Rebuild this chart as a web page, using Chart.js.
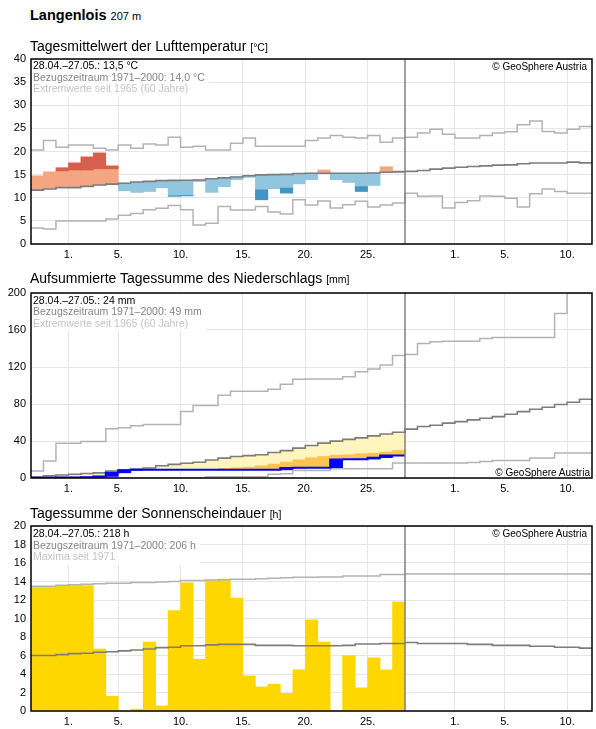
<!DOCTYPE html>
<html>
<head>
<meta charset="utf-8">
<script src="https://cdn.jsdelivr.net/npm/chart.js@4.4.1/dist/chart.umd.min.js"></script>
<style>
    body { margin: 0; background: #fff; font-family: "Liberation Sans", Arial, sans-serif; }
    #page { position: relative; width: 596px; height: 729px; overflow: hidden; }
    canvas { position: absolute; left: 0; }
    .txt { position: absolute; white-space: nowrap; color: #000; }
    .head { left: 30px; font-size: 14.5px; font-weight: bold; line-height: 14.5px; }
    .head span { font-size: 11px; font-weight: normal; }
    .ttl { left: 30px; font-size: 14px; line-height: 14px; }
    .ttl span { font-size: 10.5px; }
    .info { left: 32px; padding: 0 4px 2px 1px; font-size: 10.5px; line-height: 11.5px; background: #fff; }
    .info .b { color: #858585; }
    .info .c { color: #c4c4c4; }
    .copy { font-size: 10px; line-height: 11px; }
</style>
</head>
<body>
<div id="page">
    <canvas id="temp" width="596" height="215" style="top:47px"></canvas>
    <canvas id="rain" width="596" height="215" style="top:281px"></canvas>
    <canvas id="sun" width="596" height="215" style="top:514px"></canvas>

    <div class="txt head" style="top:8px">Langenlois <span>207 m</span></div>

    <div class="txt ttl" style="top:38.9px">Tagesmittelwert der Lufttemperatur <span>[°C]</span></div>
    <div class="txt info" style="top:60px">
        <div>28.04.–27.05.: 13,5 °C</div>
        <div class="b">Bezugszeitraum 1971–2000: 14,0 °C</div>
        <div class="c">Extremwerte seit 1965 (60 Jahre)</div>
    </div>
    <div class="txt copy" style="top:60.5px; right:9px">© GeoSphere Austria</div>

    <div class="txt ttl" style="top:271px">Aufsummierte Tagessumme des Niederschlags <span>[mm]</span></div>
    <div class="txt info" style="top:294.5px">
        <div>28.04.–27.05.: 24 mm</div>
        <div class="b">Bezugszeitraum 1971–2000: 49 mm</div>
        <div class="c">Extremwerte seit 1965 (60 Jahre)</div>
    </div>
    <div class="txt copy" style="top:466.8px; right:6px">© GeoSphere Austria</div>

    <div class="txt ttl" style="top:505.5px">Tagessumme der Sonnenscheindauer <span>[h]</span></div>
    <div class="txt info" style="top:528px">
        <div>28.04.–27.05.: 218 h</div>
        <div class="b">Bezugszeitraum 1971–2000: 206 h</div>
        <div class="c">Maxima seit 1971</div>
    </div>
    <div class="txt copy" style="top:528.3px; right:9px">© GeoSphere Austria</div>
</div>

<script>
// Tage ab 28.04. (Index 0) bis 11.06. (Index 44), Messwerte bis 27.05. (Index 29)
const nDays = 45;
const splitDay = 30;
const dayTicks = [3, 7, 12, 17, 22, 27, 34, 38, 43];
const dayLabels = ["1.", "5.", "10.", "15.", "20.", "25.", "1.", "5.", "10."];

// Lufttemperatur [°C]
const tempObs = [14.75, 15.6, 16.5, 17.55, 18.85, 19.7, 16.9, 11.5, 11.15, 11.35, 12.15, 10.3, 10.4, 13.5, 11.15,
    12.4, 13.9, 14.4, 9.55, 11.95, 11.0, 13.0, 13.9, 16.0, 13.9, 13.3, 11.35, 12.65, 16.7, 15.8];
const tempClim = [11.65, 11.9, 12.2, 12.2, 12.45, 12.75, 12.95, 13.15, 13.4, 13.55, 13.7, 13.75, 13.8, 13.85, 14.1,
    14.3, 14.5, 14.75, 14.95, 15.0, 15.05, 15.25, 15.3, 15.3, 15.3, 15.3, 15.3, 15.35, 15.5, 15.6,
    15.7, 15.9, 16.2, 16.4, 16.6, 16.75, 16.9, 17.05, 17.1, 17.35, 17.5, 17.5, 17.5, 17.7, 17.55];
const tempUpper = [15.2, 15.7, 15.8, 16.0, 16.0, 16.25, 16.25, 16.4, 16.6, 16.8, 17.0, 17.0, 17.1, 17.3, 17.5,
    17.7, 17.9, 18.1, 18.2, 18.3, 18.4, 18.5, 18.6, 18.6, 18.7, 18.7, 18.7, 18.7, 18.8, 18.9];
const tempLower = [8.4, 8.6, 8.9, 9.0, 9.2, 9.5, 9.7, 9.9, 10.1, 10.3, 10.4, 10.45, 10.5, 10.7, 10.9,
    11.1, 11.3, 11.5, 11.7, 11.8, 12.1, 12.2, 12.3, 12.3, 12.35, 12.4, 12.4, 12.4, 12.5, 12.6];
const tempMax = [20.3, 22.4, 20.9, 21.4, 21.4, 20.7, 20.3, 21.4, 20.7, 21.6, 21.4, 23.1, 20.9, 21.15, 20.3,
    20.3, 21.8, 22.9, 21.15, 21.15, 21.15, 21.15, 22.4, 22.9, 23.45, 23.1, 22.9, 23.45, 22.0, 22.9,
    23.1, 24.0, 24.8, 23.75, 22.9, 22.9, 23.45, 24.0, 24.25, 25.8, 26.6, 24.3, 24.0, 24.8, 25.4];
const tempMin = [3.45, 3.25, 4.95, 4.95, 4.95, 4.95, 5.4, 6.2, 6.6, 7.4, 7.75, 8.35, 7.4, 4.1, 4.5,
    8.1, 7.35, 7.35, 8.1, 6.9, 6.5, 9.55, 8.45, 9.3, 7.8, 8.5, 9.25, 8.0, 8.45, 8.85,
    11.0, 10.3, 10.4, 7.8, 9.0, 9.35, 10.4, 10.3, 9.9, 8.0, 10.85, 11.9, 11.35, 11.0, 11.0];

// Niederschlag aufsummiert [mm]
const rainObs = [0.3, 0.4, 0.5, 0.6, 0.7, 1.7, 5.6, 8.4, 8.8, 8.8, 8.8, 8.8, 8.8, 8.8, 8.8,
    8.8, 8.8, 8.8, 8.8, 8.8, 10.9, 11.1, 11.1, 11.1, 20.1, 20.2, 20.4, 22.0, 24.4, 24.4];
const rainLimit = [0.4, 1.2, 1.3, 1.4, 1.5, 2.2, 3.0, 3.8, 4.6, 5.4, 6.2, 7.0, 7.6, 8.2, 8.7,
    10.4, 11.1, 11.8, 13.3, 15.0, 17.2, 19.7, 21.9, 23.3, 24.7, 25.1, 26.2, 26.9, 28.0, 29.8];
const rainClim = [1.0, 2.3, 3.2, 4.0, 4.8, 5.5, 7.6, 8.7, 9.8, 10.8, 13.3, 14.7, 15.9, 17.0, 19.5,
    21.5, 23.3, 24.2, 25.2, 27.5, 29.6, 32.3, 35.2, 37.7, 39.9, 41.8, 43.4, 45.5, 47.5, 49.4,
    52.8, 55.6, 57.1, 59.3, 61.0, 62.8, 64.6, 66.4, 68.9, 71.8, 74.3, 76.5, 79.4, 81.9, 85.1];
const rainMax = [7.7, 18.5, 37.7, 37.7, 39.5, 39.5, 53.3, 54.2, 56.5, 57.8, 57.8, 57.8, 72.0, 78.5, 78.5,
    89.4, 93.7, 93.7, 93.7, 95.9, 101.3, 106.7, 107.0, 107.0, 107.0, 109.5, 114.9, 117.8, 122.1, 132.5,
    133.6, 145.4, 147.2, 147.9, 147.9, 147.9, 150.8, 151.9, 151.9, 151.9, 151.9, 151.9, 177.8, 200.0, 200.0];
const rainMin = [0, 0, 0, 0, 0, 0, 0, 0, 0, 0, 0, 0, 0, 0, 1.4,
    1.4, 1.4, 1.4, 1.4, 4.0, 4.6, 8.2, 8.2, 8.2, 10.0, 10.0, 10.0, 10.0, 10.0, 16.1,
    16.1, 16.1, 16.1, 16.1, 16.1, 16.8, 17.9, 19.0, 19.0, 19.0, 21.5, 21.5, 26.9, 26.9, 26.9];

// Sonnenscheindauer [h]
const sunObs = [13.45, 13.4, 13.55, 13.55, 13.55, 6.7, 1.6, 0, 0.2, 7.45, 0.55, 10.85, 13.85, 5.6, 14.1,
    14.25, 12.2, 3.8, 2.6, 2.9, 1.9, 4.45, 9.85, 7.45, 0, 6.0, 2.5, 5.75, 4.45, 11.8];
const sunClim = [6.0, 6.0, 6.1, 6.2, 6.25, 6.35, 6.4, 6.5, 6.6, 6.7, 6.85, 6.9, 7.05, 7.05, 7.15,
    7.2, 7.2, 7.2, 7.1, 7.1, 7.1, 7.05, 7.05, 7.05, 7.05, 7.1, 7.25, 7.25, 7.3, 7.3,
    7.4, 7.3, 7.3, 7.3, 7.3, 7.2, 7.2, 7.1, 7.1, 7.1, 7.0, 7.0, 6.9, 6.9, 6.8];
const sunMax = [13.5, 13.5, 13.6, 13.65, 13.7, 13.75, 13.8, 13.8, 13.9, 13.9, 13.95, 14.0, 14.1, 14.1, 14.15,
    14.2, 14.25, 14.25, 14.3, 14.35, 14.4, 14.45, 14.45, 14.5, 14.5, 14.6, 14.6, 14.6, 14.75, 14.75,
    14.8, 14.8, 14.8, 14.8, 14.8, 14.8, 14.8, 14.8, 14.8, 14.8, 14.8, 14.8, 14.8, 14.8, 14.8];

const gridColor = "#e6e6e6";
const extremeColor = "#b3b3b3";
const climColor = "#7d7d7d";

Chart.defaults.font.family = '"Liberation Sans", Arial, sans-serif';
Chart.defaults.font.size = 11;
Chart.defaults.color = "#000";

// Rahmen und Trennlinie zwischen Messzeitraum und Vorschau
const frame = {
    id: "frame",
    afterDatasetsDraw(chart) {
        const a = chart.chartArea;
        const ctx = chart.ctx;
        const xs = chart.scales.x.getPixelForValue(splitDay);
        ctx.save();
        ctx.strokeStyle = "#808080";
        ctx.lineWidth = 1.5;
        ctx.beginPath();
        ctx.moveTo(xs, a.top);
        ctx.lineTo(xs, a.bottom);
        ctx.stroke();
        ctx.strokeStyle = "#000";
        ctx.strokeRect(a.left, a.top, a.right - a.left, a.bottom - a.top);
        ctx.restore();
    },
};

// Tageswerte als Treppe: Wert i gilt von Tag i bis Tag i+1
function steps(values) {
    const pts = values.map((y, i) => ({ x: i, y: y }));
    pts.push({ x: values.length, y: values[values.length - 1] });
    return pts;
}

function stepLine(values, color, width, order) {
    return {
        type: "line",
        data: steps(values),
        borderColor: color,
        borderWidth: width,
        stepped: true,
        pointRadius: 0,
        fill: false,
        order: order,
    };
}

function floatBars(items, colors, order) {
    return {
        type: "bar",
        data: items,
        backgroundColor: colors,
        borderWidth: 0,
        barPercentage: 1,
        categoryPercentage: 1,
        grouped: false,
        order: order,
    };
}

function makeChart(id, yMax, yStep, datasets) {
    return new Chart(document.getElementById(id), {
        type: "line",
        data: { datasets: datasets },
        options: {
            responsive: false,
            animation: false,
            devicePixelRatio: 1,
            layout: { padding: { top: 12, right: 4, left: 0, bottom: 0 } },
            plugins: { legend: { display: false }, tooltip: { enabled: false } },
            scales: {
                x: {
                    type: "linear",
                    min: 0,
                    max: nDays,
                    offset: false,
                    afterBuildTicks: (axis) => {
                        axis.ticks = dayTicks.map((v) => ({ value: v }));
                    },
                    afterFit: (axis) => {
                        axis.height = 18;
                    },
                    ticks: {
                        autoSkip: false,
                        maxRotation: 0,
                        padding: 4,
                        callback: (value, index) => dayLabels[index],
                    },
                    grid: { color: gridColor, drawTicks: false, offset: false },
                    border: { display: false },
                },
                y: {
                    min: 0,
                    max: yMax,
                    afterFit: (axis) => {
                        axis.width = 31;
                    },
                    ticks: { stepSize: yStep, padding: 5 },
                    grid: { color: gridColor, drawTicks: false },
                    border: { display: false },
                },
            },
        },
        plugins: [frame],
    });
}

// Temperatur: helle Balken bis zum Band, dunkle darüber hinaus
const tempLight = [], tempLightColors = [], tempDark = [], tempDarkColors = [];
tempObs.forEach((v, i) => {
    const c = tempClim[i];
    const edge = Math.min(Math.max(v, tempLower[i]), tempUpper[i]);
    tempLight.push({ x: i + 0.5, y: [c, edge] });
    tempLightColors.push(v >= c ? "#f4a582" : "#92c5de");
    if (v > tempUpper[i]) {
        tempDark.push({ x: i + 0.5, y: [tempUpper[i], v] });
        tempDarkColors.push("#d6604d");
    } else if (v < tempLower[i]) {
        tempDark.push({ x: i + 0.5, y: [v, tempLower[i]] });
        tempDarkColors.push("#4393c3");
    }
});

makeChart("temp", 40, 5, [
    stepLine(tempClim, climColor, 1.6, 1),
    stepLine(tempMax, extremeColor, 1.5, 2),
    stepLine(tempMin, extremeColor, 1.5, 2),
    floatBars(tempDark, tempDarkColors, 5),
    floatBars(tempLight, tempLightColors, 6),
]);

// Niederschlag: Defizit gelb, starkes Defizit orange, Tageszuwachs blau
const rainYellow = [], rainOrange = [], rainDaily = [];
rainObs.forEach((v, i) => {
    const top = Math.max(v, rainLimit[i]);
    if (rainClim[i] > top) rainYellow.push({ x: i + 0.5, y: [top, rainClim[i]] });
    if (rainLimit[i] > v) rainOrange.push({ x: i + 0.5, y: [v, rainLimit[i]] });
    const prev = i > 0 ? rainObs[i - 1] : 0;
    if (v > prev) rainDaily.push({ x: i + 0.5, y: [prev, v] });
});

makeChart("rain", 200, 40, [
    stepLine(rainObs, "#0000ff", 2, 1),
    stepLine(rainClim, climColor, 1.6, 2),
    stepLine(rainMax, extremeColor, 1.5, 3),
    stepLine(rainMin, extremeColor, 1.5, 3),
    floatBars(rainDaily, "#0000ff", 5),
    floatBars(rainOrange, "#fec44f", 6),
    floatBars(rainYellow, "#fff5bd", 7),
]);

// Sonnenscheindauer
makeChart("sun", 20, 2, [
    stepLine(sunClim, climColor, 1.6, 1),
    stepLine(sunMax, extremeColor, 1.5, 2),
    floatBars(sunObs.map((v, i) => ({ x: i + 0.5, y: [0, v] })), "#ffd700", 5),
]);
</script>
</body>
</html>
